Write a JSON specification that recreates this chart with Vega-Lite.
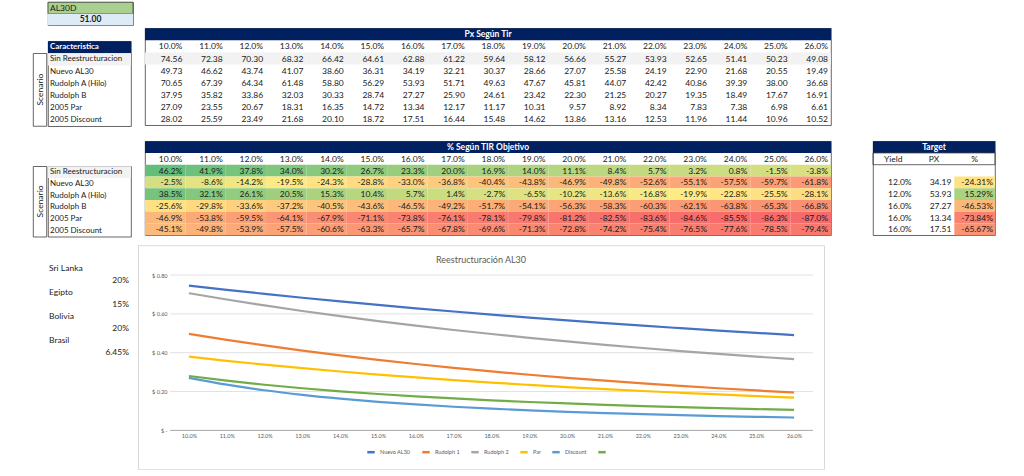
{
 "$schema": "https://vega.github.io/schema/vega-lite/v6.json",
 "background": "white",
 "padding": {"left": 0, "top": 1.2, "right": 0, "bottom": 0},
 "spacing": 0,
 "config": {
  "view": {"stroke": null},
  "font": "Lato",
  "text": {"font": "Lato", "fontSize": 8.5, "color": "#1a1a1a", "baseline": "middle"},
  "locale": {"number": {"decimal": ".", "thousands": ",", "grouping": [3], "currency": ["$", ""], "minus": "-"}}
 },
 "datasets": {
  "scen": [{"scen": "Sin Reestructuracion"}, {"scen": "Nuevo AL30"}, {"scen": "Rudolph A (Hilo)"}, {"scen": "Rudolph B"}, {"scen": "2005 Par"}, {"scen": "2005 Discount"}],
  "paises": [{"pais": "Sri Lanka", "tasa": 0.2}, {"pais": "Egipto", "tasa": 0.15}, {"pais": "Bolivia", "tasa": 0.2}, {"pais": "Brasil", "tasa": 0.0645}],
  "target": [
   {"s": "Nuevo AL30", "yield": 0.12, "px": 34.19, "pc": -0.2431},
   {"s": "Rudolph A (Hilo)", "yield": 0.12, "px": 53.93, "pc": 0.1529},
   {"s": "Rudolph B", "yield": 0.16, "px": 27.27, "pc": -0.4653},
   {"s": "2005 Par", "yield": 0.16, "px": 13.34, "pc": -0.7384},
   {"s": "2005 Discount", "yield": 0.16, "px": 17.51, "pc": -0.6567}
  ],
  "px": [
   {"s": "Sin Reestructuracion", "yield": 0.10, "px": 74.56, "pc": 0.462},
   {"s": "Sin Reestructuracion", "yield": 0.11, "px": 72.38, "pc": 0.419},
   {"s": "Sin Reestructuracion", "yield": 0.12, "px": 70.30, "pc": 0.378},
   {"s": "Sin Reestructuracion", "yield": 0.13, "px": 68.32, "pc": 0.340},
   {"s": "Sin Reestructuracion", "yield": 0.14, "px": 66.42, "pc": 0.302},
   {"s": "Sin Reestructuracion", "yield": 0.15, "px": 64.61, "pc": 0.267},
   {"s": "Sin Reestructuracion", "yield": 0.16, "px": 62.88, "pc": 0.233},
   {"s": "Sin Reestructuracion", "yield": 0.17, "px": 61.22, "pc": 0.200},
   {"s": "Sin Reestructuracion", "yield": 0.18, "px": 59.64, "pc": 0.169},
   {"s": "Sin Reestructuracion", "yield": 0.19, "px": 58.12, "pc": 0.140},
   {"s": "Sin Reestructuracion", "yield": 0.20, "px": 56.66, "pc": 0.111},
   {"s": "Sin Reestructuracion", "yield": 0.21, "px": 55.27, "pc": 0.084},
   {"s": "Sin Reestructuracion", "yield": 0.22, "px": 53.93, "pc": 0.057},
   {"s": "Sin Reestructuracion", "yield": 0.23, "px": 52.65, "pc": 0.032},
   {"s": "Sin Reestructuracion", "yield": 0.24, "px": 51.41, "pc": 0.008},
   {"s": "Sin Reestructuracion", "yield": 0.25, "px": 50.23, "pc": -0.015},
   {"s": "Sin Reestructuracion", "yield": 0.26, "px": 49.08, "pc": -0.038},
   {"s": "Nuevo AL30", "yield": 0.10, "px": 49.73, "pc": -0.025},
   {"s": "Nuevo AL30", "yield": 0.11, "px": 46.62, "pc": -0.086},
   {"s": "Nuevo AL30", "yield": 0.12, "px": 43.74, "pc": -0.142},
   {"s": "Nuevo AL30", "yield": 0.13, "px": 41.07, "pc": -0.195},
   {"s": "Nuevo AL30", "yield": 0.14, "px": 38.60, "pc": -0.243},
   {"s": "Nuevo AL30", "yield": 0.15, "px": 36.31, "pc": -0.288},
   {"s": "Nuevo AL30", "yield": 0.16, "px": 34.19, "pc": -0.330},
   {"s": "Nuevo AL30", "yield": 0.17, "px": 32.21, "pc": -0.368},
   {"s": "Nuevo AL30", "yield": 0.18, "px": 30.37, "pc": -0.404},
   {"s": "Nuevo AL30", "yield": 0.19, "px": 28.66, "pc": -0.438},
   {"s": "Nuevo AL30", "yield": 0.20, "px": 27.07, "pc": -0.469},
   {"s": "Nuevo AL30", "yield": 0.21, "px": 25.58, "pc": -0.498},
   {"s": "Nuevo AL30", "yield": 0.22, "px": 24.19, "pc": -0.526},
   {"s": "Nuevo AL30", "yield": 0.23, "px": 22.90, "pc": -0.551},
   {"s": "Nuevo AL30", "yield": 0.24, "px": 21.68, "pc": -0.575},
   {"s": "Nuevo AL30", "yield": 0.25, "px": 20.55, "pc": -0.597},
   {"s": "Nuevo AL30", "yield": 0.26, "px": 19.49, "pc": -0.618},
   {"s": "Rudolph A (Hilo)", "yield": 0.10, "px": 70.65, "pc": 0.385},
   {"s": "Rudolph A (Hilo)", "yield": 0.11, "px": 67.39, "pc": 0.321},
   {"s": "Rudolph A (Hilo)", "yield": 0.12, "px": 64.34, "pc": 0.261},
   {"s": "Rudolph A (Hilo)", "yield": 0.13, "px": 61.48, "pc": 0.205},
   {"s": "Rudolph A (Hilo)", "yield": 0.14, "px": 58.80, "pc": 0.153},
   {"s": "Rudolph A (Hilo)", "yield": 0.15, "px": 56.29, "pc": 0.104},
   {"s": "Rudolph A (Hilo)", "yield": 0.16, "px": 53.93, "pc": 0.057},
   {"s": "Rudolph A (Hilo)", "yield": 0.17, "px": 51.71, "pc": 0.014},
   {"s": "Rudolph A (Hilo)", "yield": 0.18, "px": 49.63, "pc": -0.027},
   {"s": "Rudolph A (Hilo)", "yield": 0.19, "px": 47.67, "pc": -0.065},
   {"s": "Rudolph A (Hilo)", "yield": 0.20, "px": 45.81, "pc": -0.102},
   {"s": "Rudolph A (Hilo)", "yield": 0.21, "px": 44.07, "pc": -0.136},
   {"s": "Rudolph A (Hilo)", "yield": 0.22, "px": 42.42, "pc": -0.168},
   {"s": "Rudolph A (Hilo)", "yield": 0.23, "px": 40.86, "pc": -0.199},
   {"s": "Rudolph A (Hilo)", "yield": 0.24, "px": 39.39, "pc": -0.228},
   {"s": "Rudolph A (Hilo)", "yield": 0.25, "px": 38.00, "pc": -0.255},
   {"s": "Rudolph A (Hilo)", "yield": 0.26, "px": 36.68, "pc": -0.281},
   {"s": "Rudolph B", "yield": 0.10, "px": 37.95, "pc": -0.256},
   {"s": "Rudolph B", "yield": 0.11, "px": 35.82, "pc": -0.298},
   {"s": "Rudolph B", "yield": 0.12, "px": 33.86, "pc": -0.336},
   {"s": "Rudolph B", "yield": 0.13, "px": 32.03, "pc": -0.372},
   {"s": "Rudolph B", "yield": 0.14, "px": 30.33, "pc": -0.405},
   {"s": "Rudolph B", "yield": 0.15, "px": 28.74, "pc": -0.436},
   {"s": "Rudolph B", "yield": 0.16, "px": 27.27, "pc": -0.465},
   {"s": "Rudolph B", "yield": 0.17, "px": 25.90, "pc": -0.492},
   {"s": "Rudolph B", "yield": 0.18, "px": 24.61, "pc": -0.517},
   {"s": "Rudolph B", "yield": 0.19, "px": 23.42, "pc": -0.541},
   {"s": "Rudolph B", "yield": 0.20, "px": 22.30, "pc": -0.563},
   {"s": "Rudolph B", "yield": 0.21, "px": 21.25, "pc": -0.583},
   {"s": "Rudolph B", "yield": 0.22, "px": 20.27, "pc": -0.603},
   {"s": "Rudolph B", "yield": 0.23, "px": 19.35, "pc": -0.621},
   {"s": "Rudolph B", "yield": 0.24, "px": 18.49, "pc": -0.638},
   {"s": "Rudolph B", "yield": 0.25, "px": 17.67, "pc": -0.653},
   {"s": "Rudolph B", "yield": 0.26, "px": 16.91, "pc": -0.668},
   {"s": "2005 Par", "yield": 0.10, "px": 27.09, "pc": -0.469},
   {"s": "2005 Par", "yield": 0.11, "px": 23.55, "pc": -0.538},
   {"s": "2005 Par", "yield": 0.12, "px": 20.67, "pc": -0.595},
   {"s": "2005 Par", "yield": 0.13, "px": 18.31, "pc": -0.641},
   {"s": "2005 Par", "yield": 0.14, "px": 16.35, "pc": -0.679},
   {"s": "2005 Par", "yield": 0.15, "px": 14.72, "pc": -0.711},
   {"s": "2005 Par", "yield": 0.16, "px": 13.34, "pc": -0.738},
   {"s": "2005 Par", "yield": 0.17, "px": 12.17, "pc": -0.761},
   {"s": "2005 Par", "yield": 0.18, "px": 11.17, "pc": -0.781},
   {"s": "2005 Par", "yield": 0.19, "px": 10.31, "pc": -0.798},
   {"s": "2005 Par", "yield": 0.20, "px": 9.57, "pc": -0.812},
   {"s": "2005 Par", "yield": 0.21, "px": 8.92, "pc": -0.825},
   {"s": "2005 Par", "yield": 0.22, "px": 8.34, "pc": -0.836},
   {"s": "2005 Par", "yield": 0.23, "px": 7.83, "pc": -0.846},
   {"s": "2005 Par", "yield": 0.24, "px": 7.38, "pc": -0.855},
   {"s": "2005 Par", "yield": 0.25, "px": 6.98, "pc": -0.863},
   {"s": "2005 Par", "yield": 0.26, "px": 6.61, "pc": -0.870},
   {"s": "2005 Discount", "yield": 0.10, "px": 28.02, "pc": -0.451},
   {"s": "2005 Discount", "yield": 0.11, "px": 25.59, "pc": -0.498},
   {"s": "2005 Discount", "yield": 0.12, "px": 23.49, "pc": -0.539},
   {"s": "2005 Discount", "yield": 0.13, "px": 21.68, "pc": -0.575},
   {"s": "2005 Discount", "yield": 0.14, "px": 20.10, "pc": -0.606},
   {"s": "2005 Discount", "yield": 0.15, "px": 18.72, "pc": -0.633},
   {"s": "2005 Discount", "yield": 0.16, "px": 17.51, "pc": -0.657},
   {"s": "2005 Discount", "yield": 0.17, "px": 16.44, "pc": -0.678},
   {"s": "2005 Discount", "yield": 0.18, "px": 15.48, "pc": -0.696},
   {"s": "2005 Discount", "yield": 0.19, "px": 14.62, "pc": -0.713},
   {"s": "2005 Discount", "yield": 0.20, "px": 13.86, "pc": -0.728},
   {"s": "2005 Discount", "yield": 0.21, "px": 13.16, "pc": -0.742},
   {"s": "2005 Discount", "yield": 0.22, "px": 12.53, "pc": -0.754},
   {"s": "2005 Discount", "yield": 0.23, "px": 11.96, "pc": -0.765},
   {"s": "2005 Discount", "yield": 0.24, "px": 11.44, "pc": -0.776},
   {"s": "2005 Discount", "yield": 0.25, "px": 10.96, "pc": -0.785},
   {"s": "2005 Discount", "yield": 0.26, "px": 10.52, "pc": -0.794}
  ]
 },
 "vconcat": [
  {"hconcat": [
    {"width": 46.2, "height": 1, "data": {"values": []}, "mark": "point", "view": {"fill": "white"}},
    {"width": 85, "height": 23, "data": {"values": [{"bono": "AL30D", "precio": 51.0}]}, "view": {"stroke": "#404040", "strokeWidth": 0.8},
     "layer": [
      {"mark": {"type": "rect", "color": "#A9D08E", "stroke": "#404040", "strokeWidth": 0.8},
       "encoding": {"y": {"datum": "bono", "type": "nominal", "axis": null, "scale": {"type": "band", "domain": ["bono", "precio"], "paddingInner": 0, "paddingOuter": 0}}}},
      {"mark": {"type": "rect", "color": "#DDEBF7"},
       "encoding": {"y": {"datum": "precio", "type": "nominal", "axis": null, "scale": {"type": "band", "domain": ["bono", "precio"], "paddingInner": 0, "paddingOuter": 0}}}},
      {"mark": {"type": "text", "align": "left", "dx": 2},
       "encoding": {"y": {"datum": "bono", "type": "nominal", "axis": null, "bandPosition": 0.5, "scale": {"type": "band", "domain": ["bono", "precio"], "paddingInner": 0, "paddingOuter": 0}},
        "x": {"datum": 0, "type": "quantitative", "scale": {"domain": [0, 1]}, "axis": null}, "text": {"field": "bono"}}},
      {"mark": {"type": "text", "fontWeight": "bold"},
       "encoding": {"y": {"datum": "precio", "type": "nominal", "axis": null, "bandPosition": 0.5, "scale": {"type": "band", "domain": ["bono", "precio"], "paddingInner": 0, "paddingOuter": 0}},
        "text": {"field": "precio", "format": ".2f"}}}
     ]}
   ], "spacing": 0},
  {"width": 1, "height": 0.4, "data": {"values": []}, "mark": "point", "view": {"fill": "white"}},
  {"hconcat": [
    {"width": 31.2, "height": 1, "data": {"values": []}, "mark": "point", "view": {"fill": "white"}},
    {"vconcat": [
      {"width": 13.4, "height": 23.45, "data": {"values": []}, "mark": "point", "view": {"fill": "white"}},
      {"width": 13.4, "height": 72.75, "data": {"values": [{"eje": "Scenario"}]}, "view": {"stroke": "#404040", "strokeWidth": 0.8},
       "mark": {"type": "text", "angle": 270}, "encoding": {"text": {"field": "eje"}}}
     ], "spacing": 0},
    {"vconcat": [
      {"width": 83, "height": 11.3, "data": {"values": []}, "mark": "point", "view": {"fill": "white"}},
      {"width": 83, "height": 85, "view": {"stroke": "#404040", "strokeWidth": 0.8},
       "layer": [
        {"data": {"values": [{"h": "Caracteristica"}]}, "mark": {"type": "rect", "color": "#002060"},
         "encoding": {"y": {"field": "h", "type": "nominal", "axis": null, "scale": {"type": "band", "paddingInner": 0, "paddingOuter": 0, "domain": ["Caracteristica", "Sin Reestructuracion", "Nuevo AL30", "Rudolph A (Hilo)", "Rudolph B", "2005 Par", "2005 Discount"]}}}},
        {"data": {"values": [{"h": "Caracteristica"}]}, "mark": {"type": "text", "color": "white", "fontWeight": "bold", "align": "left", "dx": 2, "fontSize": 8},
         "encoding": {"y": {"field": "h", "type": "nominal", "axis": null, "bandPosition": 0.5, "scale": {"type": "band", "paddingInner": 0, "paddingOuter": 0, "domain": ["Caracteristica", "Sin Reestructuracion", "Nuevo AL30", "Rudolph A (Hilo)", "Rudolph B", "2005 Par", "2005 Discount"]}},
          "x": {"datum": 0, "type": "quantitative", "scale": {"domain": [0, 1]}, "axis": null}, "text": {"field": "h"}}},
        {"data": {"name": "scen"}, "transform": [{"filter": "datum.scen == 'Sin Reestructuracion'"}], "mark": {"type": "rect", "color": "#F2F2F2"},
         "encoding": {"y": {"field": "scen", "type": "nominal", "axis": null, "scale": {"type": "band", "paddingInner": 0, "paddingOuter": 0, "domain": ["Caracteristica", "Sin Reestructuracion", "Nuevo AL30", "Rudolph A (Hilo)", "Rudolph B", "2005 Par", "2005 Discount"]}}}},
        {"data": {"name": "scen"}, "mark": {"type": "text", "align": "left", "dx": 2, "fontSize": 8},
         "encoding": {"y": {"field": "scen", "type": "nominal", "axis": null, "bandPosition": 0.5, "scale": {"type": "band", "paddingInner": 0, "paddingOuter": 0, "domain": ["Caracteristica", "Sin Reestructuracion", "Nuevo AL30", "Rudolph A (Hilo)", "Rudolph B", "2005 Par", "2005 Discount"]}},
          "x": {"datum": 0, "type": "quantitative", "scale": {"domain": [0, 1]}, "axis": null}, "text": {"field": "scen"}}}
       ]}
     ], "spacing": 0},
    {"width": 11.4, "height": 1, "data": {"values": []}, "mark": "point", "view": {"fill": "white"}},
    {"width": 686, "height": 97, "view": {"stroke": "#404040", "strokeWidth": 0.8},
     "layer": [
      {"data": {"values": [{"t": "Px Según Tir"}]}, "mark": {"type": "rect", "color": "#002060"},
       "encoding": {"y": {"field": "t", "type": "nominal", "axis": null, "scale": {"type": "band", "paddingInner": 0, "paddingOuter": 0, "domain": ["Px Según Tir", "hdr", "Sin Reestructuracion", "Nuevo AL30", "Rudolph A (Hilo)", "Rudolph B", "2005 Par", "2005 Discount"]}}}},
      {"data": {"values": [{"t": "Px Según Tir"}]}, "mark": {"type": "text", "color": "white", "fontWeight": "bold"},
       "encoding": {"y": {"field": "t", "type": "nominal", "axis": null, "bandPosition": 0.5, "scale": {"type": "band", "paddingInner": 0, "paddingOuter": 0, "domain": ["Px Según Tir", "hdr", "Sin Reestructuracion", "Nuevo AL30", "Rudolph A (Hilo)", "Rudolph B", "2005 Par", "2005 Discount"]}}, "text": {"field": "t"}}},
      {"data": {"name": "px"}, "transform": [{"filter": "datum.s == 'Sin Reestructuracion'"}], "mark": {"type": "rect", "color": "#F2F2F2"},
       "encoding": {"x": {"field": "yield", "type": "ordinal", "axis": null, "scale": {"type": "band", "paddingInner": 0, "paddingOuter": 0}},
        "y": {"field": "s", "type": "nominal", "axis": null, "scale": {"type": "band", "paddingInner": 0, "paddingOuter": 0, "domain": ["Px Según Tir", "hdr", "Sin Reestructuracion", "Nuevo AL30", "Rudolph A (Hilo)", "Rudolph B", "2005 Par", "2005 Discount"]}}}},
      {"data": {"name": "px"}, "transform": [{"filter": "datum.s == 'Sin Reestructuracion'"}], "mark": {"type": "text", "align": "right", "dx": -3},
       "encoding": {"x": {"field": "yield", "type": "ordinal", "axis": null, "bandPosition": 1, "scale": {"type": "band", "paddingInner": 0, "paddingOuter": 0}},
        "y": {"datum": "hdr", "type": "nominal", "axis": null, "bandPosition": 0.5, "scale": {"type": "band", "paddingInner": 0, "paddingOuter": 0, "domain": ["Px Según Tir", "hdr", "Sin Reestructuracion", "Nuevo AL30", "Rudolph A (Hilo)", "Rudolph B", "2005 Par", "2005 Discount"]}},
        "text": {"field": "yield", "format": ".1%"}}},
      {"data": {"name": "px"}, "mark": {"type": "text", "align": "right", "dx": -3},
       "encoding": {"x": {"field": "yield", "type": "ordinal", "axis": null, "bandPosition": 1, "scale": {"type": "band", "paddingInner": 0, "paddingOuter": 0}},
        "y": {"field": "s", "type": "nominal", "axis": null, "bandPosition": 0.5, "scale": {"type": "band", "paddingInner": 0, "paddingOuter": 0, "domain": ["Px Según Tir", "hdr", "Sin Reestructuracion", "Nuevo AL30", "Rudolph A (Hilo)", "Rudolph B", "2005 Par", "2005 Discount"]}},
        "text": {"field": "px", "format": ".2f"}}}
     ]}
   ], "spacing": 0},
  {"width": 1, "height": 12.4, "data": {"values": []}, "mark": "point", "view": {"fill": "white"}},
  {"hconcat": [
    {"width": 31.2, "height": 1, "data": {"values": []}, "mark": "point", "view": {"fill": "white"}},
    {"vconcat": [
      {"width": 13.4, "height": 23.5, "data": {"values": []}, "mark": "point", "view": {"fill": "white"}},
      {"width": 13.4, "height": 70.5, "data": {"values": [{"eje": "Scenario"}]}, "view": {"stroke": "#404040", "strokeWidth": 0.8},
       "mark": {"type": "text", "angle": 270}, "encoding": {"text": {"field": "eje"}}}
     ], "spacing": 0},
    {"vconcat": [
      {"width": 83, "height": 23.5, "data": {"values": []}, "mark": "point", "view": {"fill": "white"}},
      {"width": 83, "height": 70.5, "view": {"stroke": "#404040", "strokeWidth": 0.8},
       "layer": [
        {"data": {"name": "scen"}, "transform": [{"filter": "datum.scen == 'Sin Reestructuracion'"}], "mark": {"type": "rect", "color": "#F2F2F2"},
         "encoding": {"y": {"field": "scen", "type": "nominal", "axis": null, "scale": {"type": "band", "paddingInner": 0, "paddingOuter": 0, "domain": ["Sin Reestructuracion", "Nuevo AL30", "Rudolph A (Hilo)", "Rudolph B", "2005 Par", "2005 Discount"]}}}},
        {"data": {"name": "scen"}, "mark": {"type": "text", "align": "left", "dx": 2, "fontSize": 8},
         "encoding": {"y": {"field": "scen", "type": "nominal", "axis": null, "bandPosition": 0.5, "scale": {"type": "band", "paddingInner": 0, "paddingOuter": 0, "domain": ["Sin Reestructuracion", "Nuevo AL30", "Rudolph A (Hilo)", "Rudolph B", "2005 Par", "2005 Discount"]}},
          "x": {"datum": 0, "type": "quantitative", "scale": {"domain": [0, 1]}, "axis": null}, "text": {"field": "scen"}}}
       ]}
     ], "spacing": 0},
    {"width": 11.4, "height": 1, "data": {"values": []}, "mark": "point", "view": {"fill": "white"}},
    {"width": 686, "height": 94, "view": {"stroke": "#404040", "strokeWidth": 0.8},
     "layer": [
      {"data": {"values": [{"t": "% Según TIR Objetivo"}]}, "mark": {"type": "rect", "color": "#002060"},
       "encoding": {"y": {"field": "t", "type": "nominal", "axis": null, "scale": {"type": "band", "paddingInner": 0, "paddingOuter": 0, "domain": ["% Según TIR Objetivo", "hdr", "Sin Reestructuracion", "Nuevo AL30", "Rudolph A (Hilo)", "Rudolph B", "2005 Par", "2005 Discount"]}}}},
      {"data": {"values": [{"t": "% Según TIR Objetivo"}]}, "mark": {"type": "text", "color": "white", "fontWeight": "bold"},
       "encoding": {"y": {"field": "t", "type": "nominal", "axis": null, "bandPosition": 0.5, "scale": {"type": "band", "paddingInner": 0, "paddingOuter": 0, "domain": ["% Según TIR Objetivo", "hdr", "Sin Reestructuracion", "Nuevo AL30", "Rudolph A (Hilo)", "Rudolph B", "2005 Par", "2005 Discount"]}}, "text": {"field": "t"}}},
      {"data": {"name": "px"}, "mark": {"type": "rect"},
       "encoding": {"x": {"field": "yield", "type": "ordinal", "axis": null, "scale": {"type": "band", "paddingInner": 0, "paddingOuter": 0}},
        "y": {"field": "s", "type": "nominal", "axis": null, "scale": {"type": "band", "paddingInner": 0, "paddingOuter": 0, "domain": ["% Según TIR Objetivo", "hdr", "Sin Reestructuracion", "Nuevo AL30", "Rudolph A (Hilo)", "Rudolph B", "2005 Par", "2005 Discount"]}},
        "color": {"field": "pc", "type": "quantitative", "legend": null, "scale": {"domain": [-0.87, -0.458, 0.462], "range": ["#F8696B", "#FFEB84", "#63BE7B"], "interpolate": "rgb"}}}},
      {"data": {"name": "px"}, "transform": [{"filter": "datum.s == 'Sin Reestructuracion'"}], "mark": {"type": "text", "align": "right", "dx": -3},
       "encoding": {"x": {"field": "yield", "type": "ordinal", "axis": null, "bandPosition": 1, "scale": {"type": "band", "paddingInner": 0, "paddingOuter": 0}},
        "y": {"datum": "hdr", "type": "nominal", "axis": null, "bandPosition": 0.5, "scale": {"type": "band", "paddingInner": 0, "paddingOuter": 0, "domain": ["% Según TIR Objetivo", "hdr", "Sin Reestructuracion", "Nuevo AL30", "Rudolph A (Hilo)", "Rudolph B", "2005 Par", "2005 Discount"]}},
        "text": {"field": "yield", "format": ".1%"}}},
      {"data": {"name": "px"}, "mark": {"type": "text", "align": "right", "dx": -3},
       "encoding": {"x": {"field": "yield", "type": "ordinal", "axis": null, "bandPosition": 1, "scale": {"type": "band", "paddingInner": 0, "paddingOuter": 0}},
        "y": {"field": "s", "type": "nominal", "axis": null, "bandPosition": 0.5, "scale": {"type": "band", "paddingInner": 0, "paddingOuter": 0, "domain": ["% Según TIR Objetivo", "hdr", "Sin Reestructuracion", "Nuevo AL30", "Rudolph A (Hilo)", "Rudolph B", "2005 Par", "2005 Discount"]}},
        "text": {"field": "pc", "format": ".1%"}}}
     ]},
    {"width": 39.4, "height": 1, "data": {"values": []}, "mark": "point", "view": {"fill": "white"}},
    {"width": 122, "height": 94, "view": {"stroke": "#404040", "strokeWidth": 0.8},
     "layer": [
      {"data": {"values": [{"t": "Target"}]}, "mark": {"type": "rect", "color": "#002060"},
       "encoding": {"y": {"field": "t", "type": "nominal", "axis": null, "scale": {"type": "band", "paddingInner": 0, "paddingOuter": 0, "domain": ["Target", "hdr", "Sin Reestructuracion", "Nuevo AL30", "Rudolph A (Hilo)", "Rudolph B", "2005 Par", "2005 Discount"]}}}},
      {"data": {"values": [{"t": "Target"}]}, "mark": {"type": "text", "color": "white", "fontWeight": "bold"},
       "encoding": {"y": {"field": "t", "type": "nominal", "axis": null, "bandPosition": 0.5, "scale": {"type": "band", "paddingInner": 0, "paddingOuter": 0, "domain": ["Target", "hdr", "Sin Reestructuracion", "Nuevo AL30", "Rudolph A (Hilo)", "Rudolph B", "2005 Par", "2005 Discount"]}}, "text": {"field": "t"}}},
      {"data": {"values": [{"t": "Target"}]}, "mark": {"type": "rect", "filled": false, "color": "#404040", "strokeWidth": 0.8},
       "encoding": {"y": {"datum": "hdr", "type": "nominal", "axis": null, "scale": {"type": "band", "paddingInner": 0, "paddingOuter": 0, "domain": ["Target", "hdr", "Sin Reestructuracion", "Nuevo AL30", "Rudolph A (Hilo)", "Rudolph B", "2005 Par", "2005 Discount"]}}}},
      {"data": {"values": [{"c": "Yield"}, {"c": "PX"}, {"c": "%"}]}, "mark": {"type": "text"},
       "encoding": {"x": {"field": "c", "type": "nominal", "axis": null, "bandPosition": 0.5, "scale": {"type": "band", "paddingInner": 0, "paddingOuter": 0, "domain": ["Yield", "PX", "%"]}},
        "y": {"datum": "hdr", "type": "nominal", "axis": null, "bandPosition": 0.5, "scale": {"type": "band", "paddingInner": 0, "paddingOuter": 0, "domain": ["Target", "hdr", "Sin Reestructuracion", "Nuevo AL30", "Rudolph A (Hilo)", "Rudolph B", "2005 Par", "2005 Discount"]}},
        "text": {"field": "c"}}},
      {"data": {"name": "target"}, "mark": {"type": "rect"},
       "encoding": {"x": {"datum": "%", "type": "nominal", "axis": null, "scale": {"type": "band", "paddingInner": 0, "paddingOuter": 0, "domain": ["Yield", "PX", "%"]}},
        "y": {"field": "s", "type": "nominal", "axis": null, "scale": {"type": "band", "paddingInner": 0, "paddingOuter": 0, "domain": ["Target", "hdr", "Sin Reestructuracion", "Nuevo AL30", "Rudolph A (Hilo)", "Rudolph B", "2005 Par", "2005 Discount"]}},
        "color": {"field": "pc", "type": "quantitative", "legend": null, "scale": {"domain": [-0.7384, -0.4653, 0.1529], "range": ["#F8696B", "#FFEB84", "#63BE7B"], "interpolate": "rgb"}}}},
      {"data": {"name": "target"}, "mark": {"type": "text", "align": "right", "dx": -2},
       "encoding": {"x": {"datum": "Yield", "type": "nominal", "axis": null, "bandPosition": 1, "scale": {"type": "band", "paddingInner": 0, "paddingOuter": 0, "domain": ["Yield", "PX", "%"]}},
        "y": {"field": "s", "type": "nominal", "axis": null, "bandPosition": 0.5, "scale": {"type": "band", "paddingInner": 0, "paddingOuter": 0, "domain": ["Target", "hdr", "Sin Reestructuracion", "Nuevo AL30", "Rudolph A (Hilo)", "Rudolph B", "2005 Par", "2005 Discount"]}},
        "text": {"field": "yield", "format": ".1%"}}},
      {"data": {"name": "target"}, "mark": {"type": "text", "align": "right", "dx": -3},
       "encoding": {"x": {"datum": "PX", "type": "nominal", "axis": null, "bandPosition": 1, "scale": {"type": "band", "paddingInner": 0, "paddingOuter": 0, "domain": ["Yield", "PX", "%"]}},
        "y": {"field": "s", "type": "nominal", "axis": null, "bandPosition": 0.5, "scale": {"type": "band", "paddingInner": 0, "paddingOuter": 0, "domain": ["Target", "hdr", "Sin Reestructuracion", "Nuevo AL30", "Rudolph A (Hilo)", "Rudolph B", "2005 Par", "2005 Discount"]}},
        "text": {"field": "px", "format": ".2f"}}},
      {"data": {"name": "target"}, "mark": {"type": "text", "align": "right", "dx": -2},
       "encoding": {"x": {"datum": "%", "type": "nominal", "axis": null, "bandPosition": 1, "scale": {"type": "band", "paddingInner": 0, "paddingOuter": 0, "domain": ["Yield", "PX", "%"]}},
        "y": {"field": "s", "type": "nominal", "axis": null, "bandPosition": 0.5, "scale": {"type": "band", "paddingInner": 0, "paddingOuter": 0, "domain": ["Target", "hdr", "Sin Reestructuracion", "Nuevo AL30", "Rudolph A (Hilo)", "Rudolph B", "2005 Par", "2005 Discount"]}},
        "text": {"field": "pc", "format": ".2%"}}}
     ]}
   ], "spacing": 0},
  {"width": 1, "height": 6.2, "data": {"values": []}, "mark": "point", "view": {"fill": "white"}},
  {"hconcat": [
    {"width": 47, "height": 1, "data": {"values": []}, "mark": "point", "view": {"fill": "white"}},
    {"vconcat": [
      {"width": 83, "height": 17, "data": {"values": []}, "mark": "point", "view": {"fill": "white"}},
      {"width": 83, "height": 96, "data": {"name": "paises"},
       "layer": [
        {"mark": {"type": "text", "align": "left", "dx": 2},
         "encoding": {"y": {"field": "pais", "type": "nominal", "sort": null, "axis": null, "bandPosition": 0.25, "scale": {"type": "band", "paddingInner": 0, "paddingOuter": 0}},
          "x": {"datum": 0, "type": "quantitative", "scale": {"domain": [0, 1]}, "axis": null}, "text": {"field": "pais"}}},
        {"mark": {"type": "text", "align": "right", "dx": -1},
         "encoding": {"y": {"field": "pais", "type": "nominal", "sort": null, "axis": null, "bandPosition": 0.75, "scale": {"type": "band", "paddingInner": 0, "paddingOuter": 0}},
          "x": {"datum": 1, "type": "quantitative", "scale": {"domain": [0, 1]}, "axis": null}, "text": {"field": "tasa", "format": ".2~%"}}}
       ]}
     ], "spacing": 0},
    {"width": 7, "height": 1, "data": {"values": []}, "mark": "point", "view": {"fill": "white"}},
    {"width": 686, "height": 224, "view": {"stroke": "#D9D9D9", "strokeWidth": 1},
     "title": {"text": "Reestructuración AL30", "offset": -20, "fontSize": 9, "fontWeight": "normal", "color": "#595959", "font": "Lato", "anchor": "middle"},
     "layer": [
      {"data": {"values": [{"v": 20}, {"v": 40}, {"v": 60}, {"v": 80}]}, "mark": {"type": "rule", "color": "#D9D9D9", "strokeWidth": 0.8},
       "encoding": {"y": {"field": "v", "type": "quantitative", "scale": {"domain": [-20, 95.385], "nice": false, "zero": false}},
        "x": {"datum": 0.095, "type": "quantitative", "scale": {"domain": [0.08654, 0.26791], "nice": false, "zero": false}},
        "x2": {"datum": 0.265}}},
      {"data": {"values": [{"v": 0}]}, "mark": {"type": "rule", "color": "#A6A6A6", "strokeWidth": 1},
       "encoding": {"y": {"field": "v", "type": "quantitative", "scale": {"domain": [-20, 95.385], "nice": false, "zero": false}},
        "x": {"datum": 0.095, "type": "quantitative", "scale": {"domain": [0.08654, 0.26791], "nice": false, "zero": false}},
        "x2": {"datum": 0.265}}},
      {"data": {"name": "px"}, "mark": {"type": "line", "strokeWidth": 2.2, "interpolate": "monotone"},
       "encoding": {
        "x": {"field": "yield", "type": "quantitative", "scale": {"domain": [0.08654, 0.26791], "nice": false, "zero": false},
         "axis": {"orient": "bottom", "offset": -39, "title": null, "values": [0.10, 0.11, 0.12, 0.13, 0.14, 0.15, 0.16, 0.17, 0.18, 0.19, 0.20, 0.21, 0.22, 0.23, 0.24, 0.25, 0.26], "format": ".1%", "grid": false, "domain": false, "ticks": false, "labelPadding": 3, "labelFontSize": 5.5, "labelColor": "#595959", "labelFont": "Lato", "labelOverlap": false, "labelFlush": false}},
        "y": {"field": "px", "type": "quantitative", "scale": {"domain": [-20, 95.385], "nice": false, "zero": false},
         "axis": {"orient": "left", "offset": -32, "title": null, "values": [0, 20, 40, 60, 80], "labelExpr": "datum.value == 0 ? '$ -' : '$ ' + format(datum.value / 100, '.2f')", "grid": false, "domain": false, "ticks": false, "labelPadding": 3, "labelFontSize": 5.5, "labelColor": "#595959", "labelFont": "Lato", "labelFlush": false}},
        "color": {"field": "s", "type": "nominal",
         "scale": {"domain": ["Sin Reestructuracion", "Nuevo AL30", "Rudolph A (Hilo)", "Rudolph B", "2005 Par", "2005 Discount"], "range": ["#4472C4", "#ED7D31", "#A5A5A5", "#FFC000", "#5B9BD5", "#70AD47"]},
         "legend": {"orient": "none", "legendX": 366, "legendY": 202, "direction": "horizontal", "title": null, "symbolType": "stroke", "symbolStrokeWidth": 2.5, "symbolSize": 55, "labelFontSize": 5.5, "labelColor": "#595959", "labelFont": "Lato", "columnPadding": 6, "labelOffset": 4,
          "labelExpr": "datum.label == 'Sin Reestructuracion' ? 'Nuevo AL30' : datum.label == 'Nuevo AL30' ? 'Rudolph 1' : datum.label == 'Rudolph A (Hilo)' ? 'Rudolph 2' : datum.label == 'Rudolph B' ? 'Par' : datum.label == '2005 Par' ? 'Discount' : ''"}}
       }}
     ]}
   ], "spacing": 0}
 ]
}
